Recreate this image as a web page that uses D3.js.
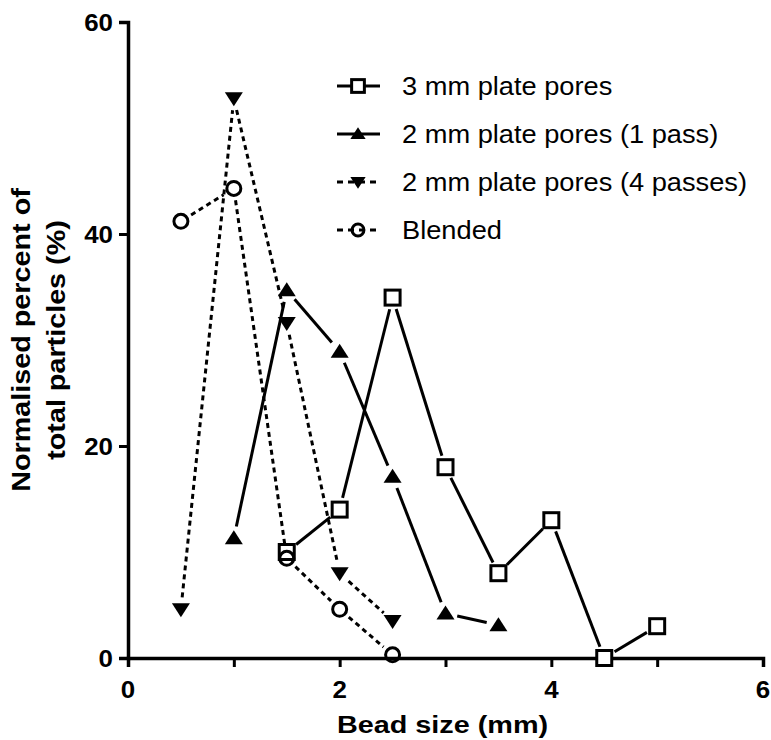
<!DOCTYPE html>
<html>
<head>
<meta charset="utf-8">
<script src="https://cdn.jsdelivr.net/npm/d3@7"></script>
<style>
body { margin: 0; background: #fff; }
text { font-family: "Liberation Sans", Arial, sans-serif; fill: #000; }
</style>
</head>
<body>
<div id="chart"></div>
<script>
// bead size categories (mm)
var plate3X = [1.5, 2, 2.5, 3, 3.5, 4, 4.5, 5];
var plate3Y = [10, 14, 34, 18, 8, 13, 0, 3];

var pass1X = [1, 1.5, 2, 2.5, 3, 3.5];
var pass1Y = [11.3, 34.7, 28.9, 17.1, 4.2, 3.1];

var pass4X = [0.5, 1, 1.5, 2, 2.5];
var pass4Y = [4.6, 52.8, 31.6, 8.0, 3.5];

var blendX = [0.5, 1, 1.5, 2, 2.5];
var blendY = [41.2, 44.3, 9.4, 4.6, 0.3];

var xTicks = [0, 2, 4, 6];
var xMinor = [1, 3, 5];
var yTicks = [0, 20, 40, 60];

var seriesNames = ["3 mm plate pores", "2 mm plate pores (1 pass)", "2 mm plate pores (4 passes)", "Blended"];

var W = 771, H = 740;
var margin = {top: 22, right: 8, bottom: 82, left: 128};

var svg = d3.select("#chart").append("svg")
    .attr("width", W).attr("height", H);

var x = d3.scaleLinear().domain([0, 6]).range([margin.left, W - margin.right]);
var y = d3.scaleLinear().domain([0, 60]).range([H - margin.bottom, margin.top]);

var series = [
    {name: seriesNames[0], xs: plate3X, ys: plate3Y, sym: "square", dash: null},
    {name: seriesNames[1], xs: pass1X, ys: pass1Y, sym: "up", dash: null},
    {name: seriesNames[2], xs: pass4X, ys: pass4Y, sym: "down", dash: "5,4"},
    {name: seriesNames[3], xs: blendX, ys: blendY, sym: "circle", dash: "5,4"}
];

function drawSymbol(g, type, cx, cy, k) {
    k = k || 1;
    if (type == "square") {
        var h = 7.5 * k;
        g.append("rect").attr("x", cx - h).attr("y", cy - h)
            .attr("width", 2 * h).attr("height", 2 * h)
            .attr("fill", "#fff").attr("stroke", "#000").attr("stroke-width", 3);
    } else if (type == "up") {
        g.append("path")
            .attr("d", "M" + cx + "," + (cy - 8 * k) + "L" + (cx + 9 * k) + "," + (cy + 6 * k) + "L" + (cx - 9 * k) + "," + (cy + 6 * k) + "Z")
            .attr("fill", "#000");
    } else if (type == "down") {
        g.append("path")
            .attr("d", "M" + cx + "," + (cy + 8 * k) + "L" + (cx + 9 * k) + "," + (cy - 6 * k) + "L" + (cx - 9 * k) + "," + (cy - 6 * k) + "Z")
            .attr("fill", "#000");
    } else {
        g.append("circle").attr("cx", cx).attr("cy", cy).attr("r", 7 * k)
            .attr("fill", "none").attr("stroke", "#000").attr("stroke-width", 3);
    }
}

// stretched text (the reference text is wider than plain Arial)
function label(px, py, str, size, bold, anchor, sx, rot) {
    var g = svg.append("g")
        .attr("transform", "translate(" + px + "," + py + ")" + (rot ? " rotate(" + rot + ")" : "") + " scale(" + sx + ",1)");
    return g.append("text")
        .attr("text-anchor", anchor)
        .attr("font-size", size)
        .attr("font-weight", bold ? "bold" : "normal")
        .text(str);
}

// lines with small gaps round the symbols
var gap = 12;
series.forEach(function(s) {
    var g = svg.append("g");
    for (var i = 0; i < s.xs.length - 1; i++) {
        var x1 = x(s.xs[i]), y1 = y(s.ys[i]), x2 = x(s.xs[i + 1]), y2 = y(s.ys[i + 1]);
        var dx = x2 - x1, dy = y2 - y1, len = Math.sqrt(dx * dx + dy * dy);
        if (len < 2 * gap + 2) continue;
        var ux = dx / len, uy = dy / len;
        g.append("line")
            .attr("x1", x1 + ux * gap).attr("y1", y1 + uy * gap)
            .attr("x2", x2 - ux * gap).attr("y2", y2 - uy * gap)
            .attr("stroke", "#000").attr("stroke-width", 3)
            .attr("stroke-dasharray", s.dash);
    }
});

// axes
var xAxis = svg.append("g")
    .attr("transform", "translate(0," + y(0) + ")")
    .call(d3.axisBottom(x).tickValues(xTicks.concat(xMinor)).tickSize(9).tickFormat(""));
var yAxis = svg.append("g")
    .attr("transform", "translate(" + x(0) + ",0)")
    .call(d3.axisLeft(y).tickValues(yTicks).tickSize(9).tickFormat(""));

[xAxis, yAxis].forEach(function(a) {
    a.select(".domain").attr("stroke", "#000").attr("stroke-width", 3.5);
    a.selectAll(".tick line").attr("stroke", "#000").attr("stroke-width", 3);
});

xTicks.forEach(function(t) { label(x(t), 698, t, 24, true, "middle", 1.08); });
yTicks.forEach(function(t) { label(x(0) - 15, y(t) + 8.5, t, 24, true, "end", 1.08); });

// symbols on top
series.forEach(function(s) {
    var g = svg.append("g");
    s.xs.forEach(function(v, i) { drawSymbol(g, s.sym, x(v), y(s.ys[i])); });
});

// axis titles
label(x(3.0) - 3, 733, "Bead size (mm)", 24, true, "middle", 1.2);
label(30, y(30), "Normalised percent of", 25, true, "middle", 1.15, -90);
label(65, y(30), "total particles (%)", 25, true, "middle", 1.15, -90);

// legend
var legend = svg.append("g");
series.forEach(function(s, i) {
    var ly = 86 + i * 48;
    legend.append("line")
        .attr("x1", 337).attr("x2", 380).attr("y1", ly).attr("y2", ly)
        .attr("stroke", "#000").attr("stroke-width", 3)
        .attr("stroke-dasharray", s.dash ? "6,5" : null);
    drawSymbol(legend, s.sym, 358, ly, 0.85);
    label(402, ly + 9, s.name, 25, false, "start", 1.09);
});
</script>
</body>
</html>
